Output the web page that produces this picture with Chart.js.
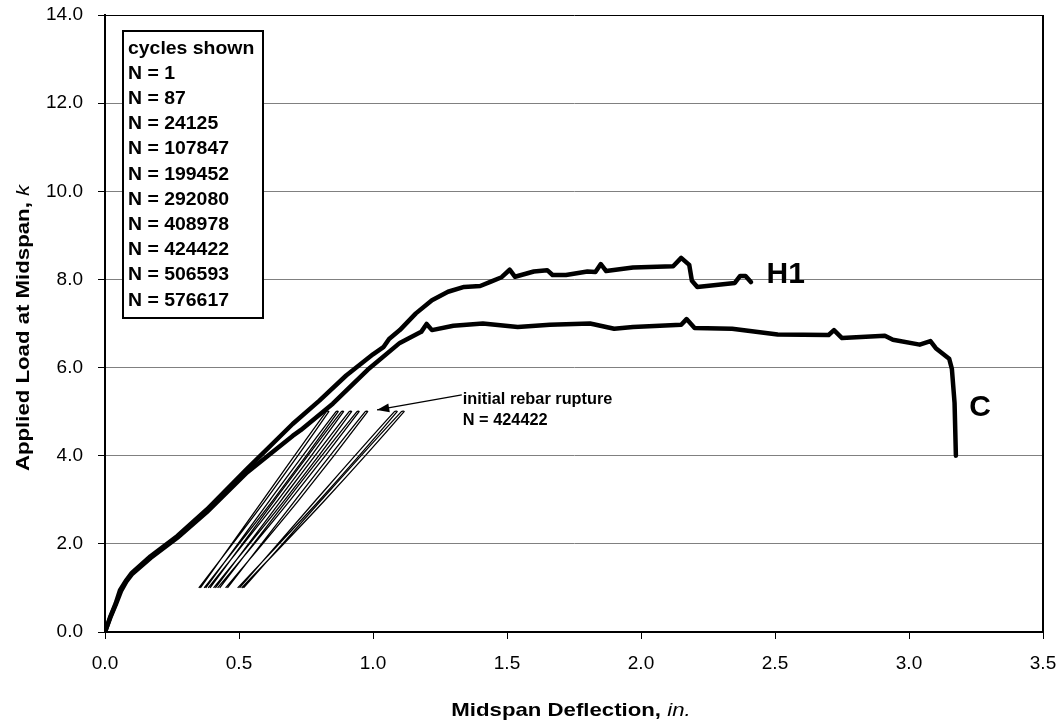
<!DOCTYPE html>
<html>
<head>
<meta charset="utf-8">
<script src="https://cdn.jsdelivr.net/npm/chart.js@4/dist/chart.umd.min.js"></script>
<style>
  html, body { margin: 0; background: #fff; }
  #wrap { width: 1063px; height: 721px; }
</style>
</head>
<body>
<div id="wrap"><canvas id="myChart" width="1063" height="721"></canvas></div>
<script>
// envelope curves (deflection in., load k)
const h1X = [0, 0.02, 0.04, 0.056, 0.08, 0.10, 0.17, 0.27, 0.38, 0.53, 0.70, 0.80, 0.90, 1.00, 1.04, 1.06, 1.10, 1.16, 1.22, 1.28, 1.34, 1.40, 1.44, 1.48, 1.51, 1.53, 1.60, 1.65, 1.67, 1.72, 1.80, 1.83, 1.85, 1.87, 1.97, 2.12, 2.15, 2.18, 2.19, 2.21, 2.35, 2.37, 2.39, 2.41];
const h1Y = [0, 0.35, 0.65, 0.95, 1.18, 1.34, 1.72, 2.18, 2.78, 3.70, 4.72, 5.25, 5.82, 6.30, 6.47, 6.65, 6.85, 7.23, 7.53, 7.72, 7.83, 7.85, 7.95, 8.05, 8.22, 8.06, 8.18, 8.21, 8.10, 8.10, 8.18, 8.17, 8.35, 8.19, 8.27, 8.30, 8.49, 8.33, 7.97, 7.83, 7.92, 8.08, 8.08, 7.94];

const cX = [0, 0.02, 0.04, 0.06, 0.08, 0.10, 0.17, 0.27, 0.38, 0.53, 0.70, 0.73, 0.85, 0.98, 1.10, 1.18, 1.20, 1.22, 1.30, 1.41, 1.54, 1.66, 1.81, 1.90, 1.97, 2.15, 2.17, 2.20, 2.34, 2.51, 2.70, 2.72, 2.75, 2.91, 2.94, 3.04, 3.08, 3.10, 3.15, 3.16, 3.17, 3.175];
const cY = [0, 0.33, 0.62, 0.93, 1.15, 1.31, 1.68, 2.14, 2.72, 3.62, 4.45, 4.58, 5.18, 5.95, 6.56, 6.81, 6.99, 6.85, 6.95, 7.00, 6.92, 6.97, 7.00, 6.88, 6.92, 6.97, 7.10, 6.90, 6.88, 6.75, 6.74, 6.85, 6.67, 6.72, 6.63, 6.52, 6.60, 6.44, 6.20, 5.97, 5.20, 4.00];

// cycle loops: load goes 1 -> 5 -> 1
const loopLoad = [1.0, 3.0, 5.0, 5.0, 3.0, 1.0];
const loop1 = [0.350, 0.600, 0.835, 0.826, 0.590, 0.356];
const loop2 = [0.370, 0.628, 0.870, 0.862, 0.616, 0.376];
const loop3 = [0.385, 0.646, 0.890, 0.882, 0.634, 0.392];
const loop4 = [0.405, 0.671, 0.920, 0.911, 0.659, 0.412];
const loop5 = [0.420, 0.692, 0.948, 0.940, 0.680, 0.428];
const loop6 = [0.450, 0.724, 0.980, 0.971, 0.711, 0.457];
const loop7 = [0.495, 0.802, 1.090, 1.080, 0.788, 0.502];
const loop8 = [0.510, 0.822, 1.116, 1.106, 0.808, 0.517];

const cycleLines = ['cycles shown', 'N = 1', 'N = 87', 'N = 24125', 'N = 107847', 'N = 199452', 'N = 292080', 'N = 408978', 'N = 424422', 'N = 506593', 'N = 576617'];
const xTicks = [0, 0.5, 1.0, 1.5, 2.0, 2.5, 3.0, 3.5];
const yTicks = [0, 2, 4, 6, 8, 10, 12, 14];

const FONT = "'Liberation Sans', Arial, sans-serif";

function pts(xs, ys) {
  return xs.map((v, i) => ({ x: v, y: ys[i] }));
}

function stretchText(ctx, s, px, py, font, sx, align) {
  ctx.save();
  ctx.translate(px, py);
  ctx.scale(sx, 1);
  ctx.font = font;
  ctx.textAlign = align || 'left';
  ctx.textBaseline = 'alphabetic';
  ctx.fillText(s, 0, 0);
  ctx.restore();
}

const envelope = (data) => ({
  data: data, showLine: true, pointRadius: 0, borderColor: '#000',
  borderWidth: 4.5, tension: 0, borderJoinStyle: 'round', borderCapStyle: 'round'
});
const cycle = (xs) => ({
  data: pts(xs, loopLoad), showLine: true, pointRadius: 0, borderColor: '#000',
  borderWidth: 1.3, tension: 0.3
});

const decor = {
  id: 'decor',
  afterDraw(chart) {
    const { ctx, chartArea: a, scales: { x, y } } = chart;
    ctx.save();
    // right border
    ctx.strokeStyle = '#000';
    ctx.lineWidth = 2;
    ctx.beginPath();
    ctx.moveTo(a.right, a.top);
    ctx.lineTo(a.right, a.bottom);
    ctx.stroke();

    ctx.fillStyle = '#000';
    // axis titles
    const sx = 1.2;
    const bold = `bold 18.5px ${FONT}`;
    const ital = `italic 18.5px ${FONT}`;
    ctx.font = bold;
    const t1 = 'Midspan Deflection, ';
    const w1 = ctx.measureText(t1).width * sx;
    ctx.font = ital;
    const w2 = ctx.measureText('in.').width * sx;
    const x0 = 571 - (w1 + w2) / 2;
    stretchText(ctx, t1, x0, 716, bold, sx);
    stretchText(ctx, 'in.', x0 + w1, 716, ital, sx);

    const t3 = 'Applied Load at Midspan, ';
    ctx.font = bold;
    const w3 = ctx.measureText(t3).width * sx;
    ctx.font = ital;
    const w4 = ctx.measureText('k').width * sx;
    ctx.save();
    ctx.translate(29, 328);
    ctx.rotate(-Math.PI / 2);
    const y0 = -(w3 + w4) / 2;
    stretchText(ctx, t3, y0, 0, bold, sx);
    stretchText(ctx, 'k', y0 + w3, 0, ital, sx);
    ctx.restore();

    // cycles box
    ctx.fillStyle = '#fff';
    ctx.fillRect(123, 31, 140, 287);
    ctx.strokeStyle = '#000';
    ctx.lineWidth = 2;
    ctx.strokeRect(123, 31, 140, 287);
    ctx.fillStyle = '#000';
    cycleLines.forEach((s, i) => {
      stretchText(ctx, s, 128, 53.5 + i * 25.2, `bold 18.5px ${FONT}`, 1.05);
    });

    // rupture annotation
    const tx = x.getPixelForValue(1.335);
    const ty = y.getPixelForValue(5.31);
    stretchText(ctx, 'initial rebar rupture', tx, ty + 6, `bold 16px ${FONT}`, 1.02);
    stretchText(ctx, 'N = 424422', tx, ty + 27, `bold 16px ${FONT}`, 1.02);
    const ax = x.getPixelForValue(1.015), ay = y.getPixelForValue(5.04);
    const bx = tx - 1, by = ty - 3;
    ctx.lineWidth = 1.3;
    ctx.beginPath();
    ctx.moveTo(bx, by);
    ctx.lineTo(ax, ay);
    ctx.stroke();
    const ang = Math.atan2(ay - by, ax - bx);
    ctx.beginPath();
    ctx.moveTo(ax, ay);
    ctx.lineTo(ax - 13 * Math.cos(ang - 0.35), ay - 13 * Math.sin(ang - 0.35));
    ctx.lineTo(ax - 13 * Math.cos(ang + 0.35), ay - 13 * Math.sin(ang + 0.35));
    ctx.closePath();
    ctx.fill();

    // series labels
    stretchText(ctx, 'H1', x.getPixelForValue(2.54), y.getPixelForValue(8.17) + 11, `bold 30px ${FONT}`, 1, 'center');
    stretchText(ctx, 'C', x.getPixelForValue(3.265), y.getPixelForValue(5.15) + 11, `bold 30px ${FONT}`, 1, 'center');
    ctx.restore();
  }
};

new Chart(document.getElementById('myChart'), {
  type: 'scatter',
  data: {
    datasets: [
      envelope(pts(h1X, h1Y)),
      envelope(pts(cX, cY)),
      cycle(loop1), cycle(loop2), cycle(loop3), cycle(loop4),
      cycle(loop5), cycle(loop6), cycle(loop7), cycle(loop8)
    ]
  },
  options: {
    responsive: false,
    animation: false,
    layout: { padding: { left: 0, top: 15, right: 20, bottom: 0 } },
    plugins: { legend: { display: false }, tooltip: { enabled: false } },
    scales: {
      x: {
        type: 'linear', min: 0, max: 3.5,
        afterFit: (s) => { s.height = 89; s.paddingLeft = 0; s.paddingRight = 0; },
        afterBuildTicks: (s) => { s.ticks = xTicks.map(v => ({ value: v })); },
        ticks: { color: '#000', padding: 13, maxRotation: 0, font: { family: FONT, size: 19 }, callback: (v) => v.toFixed(1) },
        grid: { drawOnChartArea: false, drawTicks: true, tickLength: 7, tickColor: '#000' },
        border: { color: '#000', width: 2 }
      },
      y: {
        type: 'linear', min: 0, max: 14,
        afterFit: (s) => { s.width = 105; s.paddingTop = 0; s.paddingBottom = 0; },
        afterBuildTicks: (s) => { s.ticks = yTicks.map(v => ({ value: v })); },
        ticks: { color: '#000', padding: 15, font: { family: FONT, size: 19 }, callback: (v) => v.toFixed(1) },
        grid: {
          color: (c) => (c.tick && c.tick.value === 14 ? '#000' : '#808080'),
          lineWidth: 1, drawTicks: true, tickLength: 7, tickColor: '#000'
        },
        border: { color: '#000', width: 2 }
      }
    }
  },
  plugins: [decor]
});
</script>
</body>
</html>
